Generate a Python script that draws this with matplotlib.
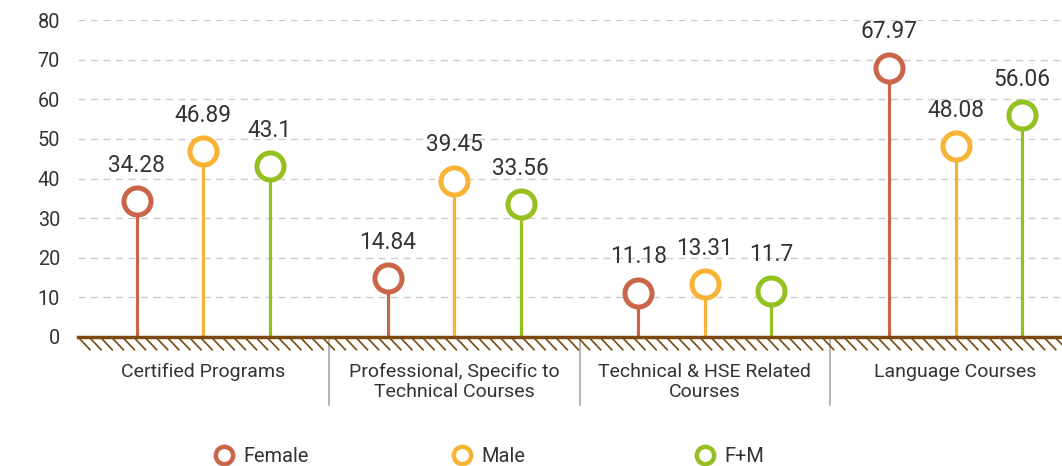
import numpy as np
import matplotlib
matplotlib.use("Agg")
import matplotlib.pyplot as plt
from matplotlib.lines import Line2D

categories = ["Certified Programs", "Professional, Specific to\nTechnical Courses",
              "Technical & HSE Related\nCourses", "Language Courses"]
series_names = ["Female", "Male", "F+M"]
female = [34.28, 14.84, 11.18, 67.97]
male = [46.89, 39.45, 13.31, 48.08]
f_m = [43.1, 33.56, 11.7, 56.06]
y_ticks = [0, 10, 20, 30, 40, 50, 60, 70, 80]

colors = ["#c9664a", "#f7b336", "#94c11f"]
txt_col = "#333333"
plt.rcParams["font.family"] = ["Roboto", "DejaVu Sans"]

fig = plt.figure(figsize=(10.62, 4.66), dpi=100)
ax = fig.add_axes([78 / 1062, 129 / 466, 1003 / 1062, 317 / 466])
ax.set_xlim(0, 4)
ax.set_ylim(0, 80)

centers = np.arange(len(categories)) + 0.5
offsets = [-0.265, 0, 0.265]

for vals, off, col in zip([female, male, f_m], offsets, colors):
    xs = centers + off
    ax.vlines(xs, 0, vals, color=col, lw=2.3, zorder=3)
    ax.plot(xs, vals, "o", ms=19.5, mfc="white", mec=col, mew=3.6, zorder=4, clip_on=False)
    for x, v in zip(xs, vals):
        ax.annotate(f"{v:g}", (x, v), xytext=(0, 17.5), textcoords="offset points",
                    ha="center", va="bottom", fontsize=16.3, color=txt_col)

# grid
for t in y_ticks[1:]:
    ax.axhline(t, color="#cccccc", lw=1, ls=(0, (5, 4)), zorder=1)

# ground line with hatching
brown = "#7b4a12"
ax.axhline(0, color=brown, lw=2.5, zorder=5, clip_on=False)
for hx in np.arange(0.0, 4.05, 11.1 / 250.75):
    ax.plot([hx, hx + 12 / 250.75], [0, -3.2], color=brown, lw=1.2, clip_on=False, zorder=5)

# separators
for sx in [1, 2, 3]:
    ax.plot([sx, sx], [0, -17.2], color="#a0a0a0", lw=1.1, clip_on=False, zorder=2)

ax.set_yticks(y_ticks)
ax.set_yticklabels([str(t) for t in y_ticks], fontsize=14.3, color=txt_col)
ax.set_xticks(centers)
ax.set_xticklabels(categories, fontsize=14, color=txt_col, linespacing=1.15)
ax.tick_params(axis="both", length=0)
ax.tick_params(axis="x", pad=18.5)
ax.tick_params(axis="y", pad=13)
for s in ax.spines.values():
    s.set_visible(False)

# legend entries, evenly spaced like the original
for name, col, lx in zip(series_names, colors, [234, 472, 715]):
    h = Line2D([], [], marker="o", ls="none", ms=12.5, mfc="white", mec=col, mew=3.2)
    fig.legend([h], [name], loc="center left",
               bbox_to_anchor=((lx - 20) / 1062, 1 - 456 / 466),
               frameon=False, fontsize=14.4, handletextpad=0.45, handlelength=1.0,
               borderaxespad=0, borderpad=0, labelcolor=txt_col)

fig.savefig("out.png", dpi=100)
